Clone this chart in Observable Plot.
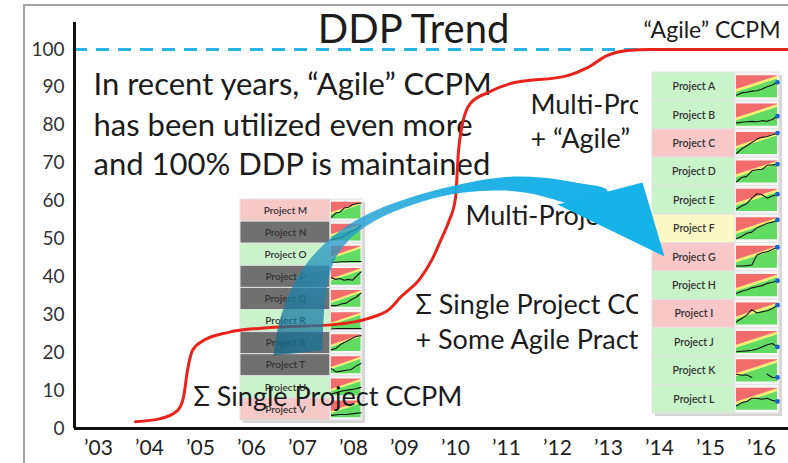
<!DOCTYPE html>
<html><head><meta charset="utf-8">
<script src="https://cdn.jsdelivr.net/npm/d3@7"></script>
<script src="https://cdn.jsdelivr.net/npm/@observablehq/plot@0.6"></script>
<style>
html,body{margin:0;padding:0;background:#fff;}
#stage{position:relative;width:788px;height:463px;overflow:hidden;background:#fff;font-family:Lato,sans-serif;}
#stage .layer{position:absolute;}
#border{position:absolute;left:23px;top:4px;width:820px;height:520px;border:2px solid #a3a3a3;box-sizing:border-box;}
</style></head><body>
<div id="stage"><div id="border"></div></div>
<svg width="0" height="0" style="position:absolute"><defs>
<linearGradient id="arrowGrad" x1="0" y1="1" x2="1" y2="0">
 <stop offset="0" stop-color="#0e6688" stop-opacity="0.72"/>
 <stop offset="0.4" stop-color="#2598c8" stop-opacity="0.75"/>
 <stop offset="0.75" stop-color="#1aaee4" stop-opacity="0.95"/>
 <stop offset="1" stop-color="#16b2ea" stop-opacity="1"/>
</linearGradient></defs></svg>
<script>
// ---------- data ----------
const years = [2003,2004,2005,2006,2007,2008,2009,2010,2011,2012,2013,2014,2015,2016];
const yearLabels = ["’03","’04","’05","’06","’07","’08","’09","’10","’11","’12","’13","’14","’15","’16"];
const yTicks = [0,10,20,30,40,50,60,70,80,90,100];
const targetDDP = [100];

const ddpYear  = [2003.725,2004.216,2004.549,2004.667,2004.745,2004.843,2005.059,2005.529,2006.314,2007.608,2008.275,2008.725,2008.922,2009.31,2009.55,2009.71,2009.86,2010.00,2010.06,2010.14,2010.29,2010.63,2011.08,2012.20,2012.59,2012.98,2013.37,2013.82,2016.53];
const ddpValue = [1.8,2.6,4.7,8.2,15.3,20.6,23.2,25.3,26.6,27.4,29.0,31.7,34.6,39.6,44.8,49.6,54.3,60.7,73.3,80.5,85.7,88.6,91.0,93.1,95.2,98.4,99.7,100,100];

// curved arrow outline (outer edge tail->head, then inner edge head->tail)
const arrowBodyYear  = [2006.431,2006.529,2006.765,2007.157,2007.745,2008.431,2009.118,2009.902,2010.882,2011.667,2012.353,2012.98, 2012.647,2011.471,2010.882,2009.902,2009.118,2008.431,2007.902,2007.608,2007.471,2007.412,2007.392];
const arrowBodyValue = [19.26,27.18,36.41,44.85,52.24,57.52,60.95,63.85,66.23,66.23,64.91,62.8, 58.8,62.01,62.80,61.74,58.84,54.88,49.60,43.80,36.41,28.50,20.58];
const arrowHeadYear  = [2013.667,2014.098,2012.0];
const arrowHeadValue = [64.89,45.37,59.09];

const titleText = "DDP Trend";
const agileTopText = "“Agile” CCPM";
const introLines = ["In recent years, “Agile” CCPM","has been utilized even more","and 100% DDP is maintained"];
const introValues = [90.5,79.9,69.4];
// phase labels (the parts left visible beside the project board)
const phaseMultiAgile = ["Multi-Proj","+ “Agile”"];
const phaseMultiAgileValues = [85.2,76.2];
const phaseMulti = "Multi-Project";
const phaseSingleAgile = ["Σ Single Project CCP","+ Some Agile Practi"];
const phaseSingleAgileValues = [32.4,23.2];
const phaseSingle = "Σ Single Project CCPM";

// project status boards
const rightProjects = ["Project A","Project B","Project C","Project D","Project E","Project F","Project G","Project H","Project I","Project J","Project K","Project L"];
const rightStatus   = ["green","green","red","green","green","yellow","red","green","red","green","green","green"];
const rightFever = [
  [0.12,0.22,0.25,0.30,0.32,0.40,0.50,0.58,0.70],
  [0.15,0.18,0.20,0.22,0.20,0.25,0.22,0.30,0.45],
  [0.05,0.25,0.40,0.55,0.70,0.78,0.82,0.90,0.97],
  [0.05,0.25,0.30,0.55,0.60,0.62,0.80,0.82,0.85],
  [0.10,0.25,0.35,0.60,0.80,0.75,0.60,0.70,0.78],
  [0.05,0.15,0.30,0.35,0.55,0.65,0.75,0.80,0.90],
  [0.10,0.10,0.12,0.15,0.60,0.70,0.75,0.85,0.95],
  [0.15,0.25,0.30,0.40,0.45,0.50,0.60,0.65,0.72],
  [0.15,0.30,0.45,0.70,0.55,0.60,0.65,0.75,0.90],
  [0.08,0.10,0.12,0.15,0.20,0.30,0.40,0.45,0.30],
  [0.35,0.30,0.32,0.20,null,null,0.35,0.20,0.20],
  [0.20,0.35,0.40,0.55,0.55,0.50,0.55,0.45,0.40]
];
const leftProjects = ["Project M","Project N","Project O","Project P","Project Q","Project R","Project S","Project T","Project U","Project V"];
const leftStatus   = ["red","gray","green","gray","gray","green","gray","gray","green","red"];
const leftFever = [
  [0.10,0.35,0.40,0.65,0.70,0.85,0.90,0.95],
  [0.05,0.15,0.20,0.40,0.55,0.70,0.95],
  [0.05,0.05,0.08,0.08,0.10,0.10,0.10],
  [0.45,0.35,0.40,0.30,0.35,0.30,0.55,0.80],
  [0.10,0.10,0.20,0.25,0.45,0.60,0.85],
  [0.03,0.05,0.05,0.05,0.05,0.05],
  [0.10,0.20,0.45,0.60,0.75,0.90,0.95],
  [0.30,0.10,0.15,0.20,0.25,0.45,0.60],
  [0.10,0.20,0.30,0.35,0.40,0.50],
  [0.15,0.20,0.20,0.25,0.30]
];
// fever chart zone boundaries (fraction of chart height at start / end)
const zoneT = [0,1];
const greenTop  = [0.25,0.85];
const yellowTop = [0.37,0.97];

// ---------- layout helpers ----------
const stage = document.getElementById("stage");
function place(node, left, top) {
  const d = document.createElement("div");
  d.className = "layer"; d.style.left = left + "px"; d.style.top = top + "px";
  d.appendChild(node); stage.appendChild(d);
}
const W = 788, H = 463;
const xDomain = [2002.53, 2016.53], yDomain = [0, 107.1];
const base = {
  width: W, height: H, marginLeft: 74, marginRight: 0, marginTop: 22, marginBottom: 35,
  x: {domain: xDomain, axis: null}, y: {domain: yDomain, axis: null}
};
const ink = "#1c1c1c";
const font = "Lato, 'Open Sans', sans-serif";

// ---------- layer A: axes and annotations ----------
const layerA = Plot.plot({
  ...base,
  style: {background: "none", fontFamily: font},
  marks: [
    Plot.ruleY(targetDDP, {y: d => d, stroke: "#2bb3e6", strokeWidth: 3, strokeDasharray: "13,9"}),
    Plot.ruleX([xDomain[0]], {x: d => d, y1: () => 0, y2: () => yDomain[1], stroke: "#111", strokeWidth: 3}),
    Plot.ruleY([0], {y: d => d, stroke: "#111", strokeWidth: 3}),
    Plot.text(yTicks, {x: () => xDomain[0], y: d => d, dx: -10, text: d => String(d), textAnchor: "end", fontSize: 19, fill: "#333"}),
    Plot.text(years, {x: d => d, y: () => 0, dy: 20, text: (d, i) => yearLabels[i], fontSize: 21, fill: "#222"}),
    Plot.text([titleText], {x: () => 2009.18, y: () => 105.1, text: d => d, fontSize: 40, fill: ink}),
    Plot.text([agileTopText], {x: () => 2016.373, y: () => 105.0, text: d => d, textAnchor: "end", fontSize: 23, fill: ink}),
    Plot.text(introLines, {x: () => 2002.902, y: (d, i) => introValues[i], text: d => d, textAnchor: "start", fontSize: 31, fill: ink}),
    Plot.text(phaseMultiAgile, {x: () => 2011.471, y: (d, i) => phaseMultiAgileValues[i], text: d => d, textAnchor: "start", fontSize: 27, fill: ink}),
    Plot.text([phaseMulti], {x: () => 2010.196, y: () => 55.9, text: d => d, textAnchor: "start", fontSize: 27, fill: ink}),
    Plot.text(phaseSingleAgile, {x: () => 2009.216, y: (d, i) => phaseSingleAgileValues[i], text: d => d, textAnchor: "start", fontSize: 27, fill: ink})
  ]
});
place(layerA, 0, 0);

// ---------- project boards ----------
const zoneColors = {red: "#f26c6c", yellow: "#f3ef6c", green: "#62db62"};
function board({names, status, fever, cellColors, width, height, margins, labelSpan, pad, fontSize, endDots, background}) {
  const rows = names.map((name, i) => ({name, status: status[i], row: i}));
  const rowY = (i, v) => i + 1 - pad - v * (1 - 2 * pad);
  const zones = [];
  rows.forEach(r => zoneT.forEach((t, k) => zones.push({row: r.row, t, g: greenTop[k], yl: yellowTop[k]})));
  const pts = [], ends = [];
  fever.forEach((vals, i) => {
    vals.forEach((v, k) => pts.push({row: i, t: k / (vals.length - 1), v}));
    const last = vals.length - 1;
    if (vals[last] != null) ends.push({row: i, t: 1, v: vals[last]});
  });
  const n = names.length;
  return Plot.plot({
    width, height, ...margins,
    x: {domain: [labelSpan, 1.05], axis: null},
    y: {domain: [n, 0], axis: null},
    style: {background, fontFamily: font},
    marks: [
      Plot.rect([0], {x1: () => labelSpan, x2: () => 1.05, y1: () => 0, y2: () => n, dx: 3, dy: 3, fill: "#8a8a8a", fillOpacity: 0.35}),
      Plot.rect(rows, {x1: () => labelSpan, x2: () => -0.03, y1: d => d.row, y2: d => d.row + 1, fill: d => cellColors[d.status], stroke: "#e2e2e2", strokeWidth: 1}),
      Plot.rect(rows, {x1: () => -0.03, x2: () => 1.05, y1: d => d.row, y2: d => d.row + 1, fill: "#f6f6f6", stroke: "#e2e2e2", strokeWidth: 1}),
      Plot.areaY(zones, {x: "t", y1: d => rowY(d.row, 0), y2: d => rowY(d.row, d.g), z: "row", fill: zoneColors.green}),
      Plot.areaY(zones, {x: "t", y1: d => rowY(d.row, d.g), y2: d => rowY(d.row, d.yl), z: "row", fill: zoneColors.yellow}),
      Plot.areaY(zones, {x: "t", y1: d => rowY(d.row, d.yl), y2: d => rowY(d.row, 1), z: "row", fill: zoneColors.red}),
      Plot.line(pts, {x: "t", y: d => d.v == null ? NaN : rowY(d.row, d.v), z: "row", stroke: "#151515", strokeWidth: 1.1}),
      endDots ? Plot.dot(ends, {x: "t", y: d => rowY(d.row, d.v), r: 2.4, fill: "#1d63c9", stroke: "none"}) : null,
      Plot.text(rows, {x: () => (labelSpan - 0.03) / 2, y: d => d.row + 0.5, text: "name", fontSize, fontWeight: 600, fill: "#333"})
    ]
  });
}

const leftBoard = board({
  names: leftProjects, status: leftStatus, fever: leftFever,
  cellColors: {red: "#f6c8c8", gray: "#707070", green: "#cbf3cb", yellow: "#fbf8c6"},
  width: 134, height: 232, margins: {marginLeft: 4, marginRight: 8, marginTop: 4, marginBottom: 7},
  labelSpan: -3.07, pad: 0.12, fontSize: 10, endDots: false, background: "none"
});
place(leftBoard, 236, 195);

const rightBoard = board({
  names: rightProjects, status: rightStatus, fever: rightFever,
  cellColors: {red: "#f8c7c7", green: "#c9f4c9", yellow: "#fcf9c6", gray: "#707070"},
  width: 150, height: 360, margins: {marginLeft: 14, marginRight: 9, marginTop: 10, marginBottom: 9},
  labelSpan: -2.05, pad: 0.11, fontSize: 10.5, endDots: true, background: "white"
});
place(rightBoard, 638, 62);

// ---------- layer B: DDP curve, arrow ----------
const layerB = Plot.plot({
  ...base,
  style: {background: "none", fontFamily: font},
  marks: [
    Plot.line(ddpYear, {x: d => d, y: (d, i) => ddpValue[i], stroke: "#e8231b", strokeWidth: 3, curve: "monotone-x"}),
    Plot.text([phaseSingle], {x: () => 2004.863, y: () => 8.2, text: d => d, textAnchor: "start", fontSize: 27, fill: ink}),
    Plot.line(arrowBodyYear, {x: d => d, y: (d, i) => arrowBodyValue[i], fill: "url(#arrowGrad)", stroke: "none", curve: "catmull-rom"}),
    Plot.line(arrowHeadYear, {x: d => d, y: (d, i) => arrowHeadValue[i], fill: "#16b2ea", stroke: "none", curve: "linear-closed"})
  ]
});
place(layerB, 0, 0);
</script>
</body></html>
